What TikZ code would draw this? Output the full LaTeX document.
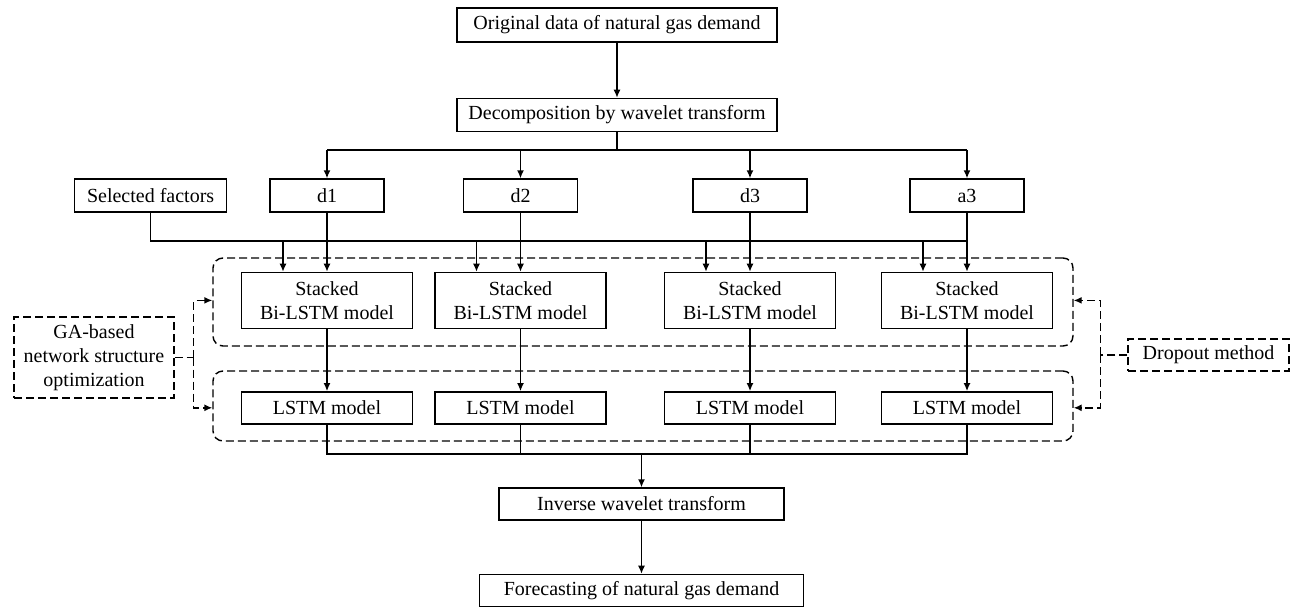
\documentclass[tikz,border=0pt]{standalone}
\usepackage{fontspec}
\setmainfont{Liberation Serif}
\usepackage{tikz}
\usetikzlibrary{positioning, arrows.meta}

\tikzset{
	box/.style={draw, line width=0.7pt, inner sep=1pt, align=center, minimum height=16.5pt, font=\fontsize{10}{12}\selectfont},
	dbox/.style={box, dash pattern=on 4pt off 2pt},
	wbox/.style={box, minimum width=57pt},
	stack/.style={box, minimum width=85.5pt, minimum height=28pt},
	lstm/.style={box, minimum width=85.5pt, minimum height=16pt},
	group/.style={draw, line width=0.7pt, dash pattern=on 4pt off 2pt, rounded corners=5pt, inner sep=0pt, minimum width=430pt},
	line/.style={line width=0.7pt},
	arr/.style={line, -{Latex[length=4pt,width=3.5pt]}},
	dline/.style={line, dash pattern=on 4pt off 2pt},
	darr/.style={dline, -{Latex[length=4pt,width=3.5pt]}}
}

\begin{document}
\begin{tikzpicture}[x=0.5pt, y=-0.5pt]
		\useasboundingbox (0,0) rectangle (1307,606);
		
		\node[box, minimum width=160pt, minimum height=17pt] (orig) at (617,25) {Original data of natural gas demand};
		\node[box, minimum width=160pt, below=27.5pt of orig] (decomp) {Decomposition by wavelet transform};
		
		\node[wbox] (d1) at (327,195.5) {d1};
		\node[wbox] (d2) at (520.5,195.5) {d2};
		\node[wbox] (d3) at (750,195.5) {d3};
		\node[wbox] (a3) at (967,195.5) {a3};
		\node[box, minimum width=76pt, left=21pt of d1] (sel) {Selected factors};
		
		\node[stack, below=29.5pt of d1] (st1) {Stacked\\Bi-LSTM model};
		\node[stack, below=29.5pt of d2] (st2) {Stacked\\Bi-LSTM model};
		\node[stack, below=29.5pt of d3] (st3) {Stacked\\Bi-LSTM model};
		\node[stack, below=29.5pt of a3] (st4) {Stacked\\Bi-LSTM model};
		
		\node[lstm, below=31pt of st1] (ls1) {LSTM model};
		\node[lstm, below=31pt of st2] (ls2) {LSTM model};
		\node[lstm, below=31pt of st3] (ls3) {LSTM model};
		\node[lstm, below=31pt of st4] (ls4) {LSTM model};
		
		\node[group, minimum height=44pt] (grpA) at (643,302) {};
		\node[group, minimum height=35pt] (grpB) at (643,406) {};
		
		\node[box, minimum width=142.5pt, minimum height=16pt] (inv) at (641.5,504) {Inverse wavelet transform};
		\node[box, minimum width=162pt, minimum height=16pt, below=26.5pt of inv] (fore) {Forecasting of natural gas demand};
		
		\node[dbox, minimum width=80pt, minimum height=40.5pt] (ga) at (94,357.5) {GA-based\\network structure\\optimization};
		\node[dbox, minimum width=80.5pt, minimum height=16pt] (drop) at (1208.5,355) {Dropout method};
		
		\coordinate (split) at (0,150);
		\coordinate (bus) at (0,241);
		\coordinate (merge) at (0,454);
		
		% decomposition into the four parts
		\draw[arr] (orig) -- (decomp);
		\draw[line] (decomp.south) -- (decomp.south |- split);
		\draw[line] (d1 |- split) -- (a3 |- split);
		\draw[arr] (d1 |- split) -- (d1);
		\draw[arr] (d2 |- split) -- (d2);
		\draw[arr] (d3 |- split) -- (d3);
		\draw[arr] (a3 |- split) -- (a3);
		
		% factors and parts into the Bi-LSTM models
		\draw[line] (sel.south) |- (a3 |- bus);
		\draw[arr] ([xshift=-22pt]st1.north |- bus) -- ([xshift=-22pt]st1.north);
		\draw[arr] ([xshift=-22pt]st2.north |- bus) -- ([xshift=-22pt]st2.north);
		\draw[arr] ([xshift=-22pt]st3.north |- bus) -- ([xshift=-22pt]st3.north);
		\draw[arr] ([xshift=-22pt]st4.north |- bus) -- ([xshift=-22pt]st4.north);
		\draw[arr] (d1) -- (st1);
		\draw[arr] (d2) -- (st2);
		\draw[arr] (d3) -- (st3);
		\draw[arr] (a3) -- (st4);
		
		\draw[arr] (st1) -- (ls1);
		\draw[arr] (st2) -- (ls2);
		\draw[arr] (st3) -- (ls3);
		\draw[arr] (st4) -- (ls4);
		
		% reconstruction
		\draw[line] (ls1.south) |- (ls4.south |- merge) -- (ls4.south);
		\draw[line] (ls2.south) -- (ls2.south |- merge);
		\draw[line] (ls3.south) -- (ls3.south |- merge);
		\draw[arr] (inv.north |- merge) -- (inv);
		\draw[arr] (inv) -- (fore);
		
		% optimization and dropout
		\draw[dline] (ga.east) -- ++(19,0) coordinate (gaj);
		\draw[darr] (gaj) |- (grpA.west |- st1);
		\draw[darr] (gaj) |- (grpB.west |- ls1);
		\draw[dline] (drop.west) -- ++(-27,0) coordinate (dropj);
		\draw[darr] (dropj) |- (grpA.east |- st4);
		\draw[darr] (dropj) |- (grpB.east |- ls4);
	\end{tikzpicture}
\end{document}
